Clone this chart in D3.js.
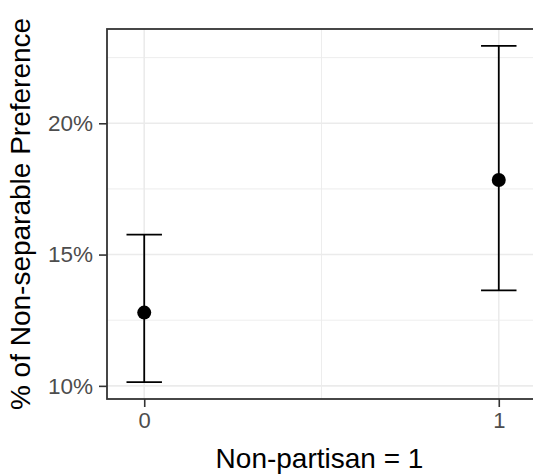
<!DOCTYPE html>
<html>
<head>
<meta charset="utf-8">
<script src="https://cdn.jsdelivr.net/npm/d3@7"></script>
<style>
  html, body { margin: 0; padding: 0; background: #fff; }
  svg { display: block; font-family: "Liberation Sans", Arial, sans-serif; }
</style>
</head>
<body>
<svg id="chart" width="533" height="474"></svg>
<script>
// Data
const categories = [0, 1];
const estimates = [0.1279, 0.1784];
const lowerCI = [0.1014, 0.1364];
const upperCI = [0.1576, 0.2295];
const yTicks = [0.10, 0.15, 0.20];
const yMinor = [0.125, 0.175, 0.225];
const xTicks = [0, 1];
const xMinor = [0.5];
const xTitle = "Non-partisan = 1";
const yTitle = "% of Non-separable Preference";

const svg = d3.select("#chart");
const W = 533, H = 474;
const panel = { left: 107, top: 29, right: 536, bottom: 399 };

// y scale with ggplot-like 5% expansion
const yLo = d3.min(lowerCI), yHi = d3.max(upperCI);
const yPad = (yHi - yLo) * 0.05;
const y = d3.scaleLinear().domain([yLo - yPad, yHi + yPad]).range([panel.bottom, panel.top]);

// x scale: errorbar width 0.1 then 5% expansion
const ebw = 0.1;
const xLo = d3.min(categories) - ebw / 2, xHi = d3.max(categories) + ebw / 2;
const xPad = (xHi - xLo) * 0.05;
const x = d3.scaleLinear().domain([xLo - xPad, xHi + xPad]).range([panel.left, panel.right]);

svg.append("rect").attr("width", W).attr("height", H).attr("fill", "#fff");

const g = svg.append("g");
svg.append("clipPath").attr("id", "pclip").append("rect")
  .attr("x", panel.left).attr("y", panel.top)
  .attr("width", panel.right - panel.left).attr("height", panel.bottom - panel.top);

const grid = g.append("g").attr("clip-path", "url(#pclip)");
// minor gridlines
grid.selectAll(".ymin").data(yMinor).join("line")
  .attr("x1", panel.left).attr("x2", panel.right)
  .attr("y1", d => y(d)).attr("y2", d => y(d))
  .attr("stroke", "#ebebeb").attr("stroke-width", 0.9);
grid.selectAll(".xmin").data(xMinor).join("line")
  .attr("y1", panel.top).attr("y2", panel.bottom)
  .attr("x1", d => x(d)).attr("x2", d => x(d))
  .attr("stroke", "#ebebeb").attr("stroke-width", 0.9);
// major gridlines
grid.selectAll(".ymaj").data(yTicks).join("line")
  .attr("x1", panel.left).attr("x2", panel.right)
  .attr("y1", d => y(d)).attr("y2", d => y(d))
  .attr("stroke", "#ebebeb").attr("stroke-width", 1.6);
grid.selectAll(".xmaj").data(xTicks).join("line")
  .attr("y1", panel.top).attr("y2", panel.bottom)
  .attr("x1", d => x(d)).attr("x2", d => x(d))
  .attr("stroke", "#ebebeb").attr("stroke-width", 1.6);

// error bars
const eb = g.append("g").attr("clip-path", "url(#pclip)");
categories.forEach((c, i) => {
  const cx = x(c), hw = (x(ebw) - x(0)) / 2;
  eb.append("line").attr("x1", cx).attr("x2", cx)
    .attr("y1", y(lowerCI[i])).attr("y2", y(upperCI[i]))
    .attr("stroke", "#000").attr("stroke-width", 1.8);
  eb.append("line").attr("x1", cx - hw).attr("x2", cx + hw)
    .attr("y1", y(lowerCI[i])).attr("y2", y(lowerCI[i]))
    .attr("stroke", "#000").attr("stroke-width", 1.8);
  eb.append("line").attr("x1", cx - hw).attr("x2", cx + hw)
    .attr("y1", y(upperCI[i])).attr("y2", y(upperCI[i]))
    .attr("stroke", "#000").attr("stroke-width", 1.8);
});
// points
eb.selectAll("circle").data(categories).join("circle")
  .attr("cx", d => x(d)).attr("cy", (d, i) => y(estimates[i]))
  .attr("r", 7).attr("fill", "#000");

// panel border
g.append("rect")
  .attr("x", panel.left).attr("y", panel.top)
  .attr("width", panel.right - panel.left).attr("height", panel.bottom - panel.top)
  .attr("fill", "none").attr("stroke", "#333").attr("stroke-width", 1.8);

// axes
const yAxis = d3.axisLeft(y).tickValues(yTicks).tickFormat(d3.format(".0%"))
  .tickSize(8).tickPadding(6);
const ya = g.append("g").attr("transform", `translate(${panel.left},0)`).call(yAxis);
ya.select(".domain").remove();
ya.selectAll(".tick line").attr("stroke", "#333").attr("stroke-width", 1.6);
ya.selectAll(".tick text").attr("fill", "#4d4d4d").attr("font-size", 22.5)
  .attr("font-family", "Liberation Sans, Arial, sans-serif");

const xAxis = d3.axisBottom(x).tickValues(xTicks).tickFormat(d3.format("d"))
  .tickSize(8).tickPadding(5);
const xa = g.append("g").attr("transform", `translate(0,${panel.bottom})`).call(xAxis);
xa.select(".domain").remove();
xa.selectAll(".tick line").attr("stroke", "#333").attr("stroke-width", 1.6);
xa.selectAll(".tick text").attr("fill", "#4d4d4d").attr("font-size", 22)
  .attr("font-family", "Liberation Sans, Arial, sans-serif");

// titles
svg.append("text")
  .attr("x", (panel.left + panel.right) / 2 - 2).attr("y", 468)
  .attr("text-anchor", "middle").attr("font-size", 28).attr("fill", "#000")
  .text(xTitle);
svg.append("text")
  .attr("transform", `translate(30,${(panel.top + panel.bottom) / 2}) rotate(-90)`)
  .attr("text-anchor", "middle").attr("font-size", 28).attr("fill", "#000")
  .text(yTitle);
</script>
</body>
</html>
